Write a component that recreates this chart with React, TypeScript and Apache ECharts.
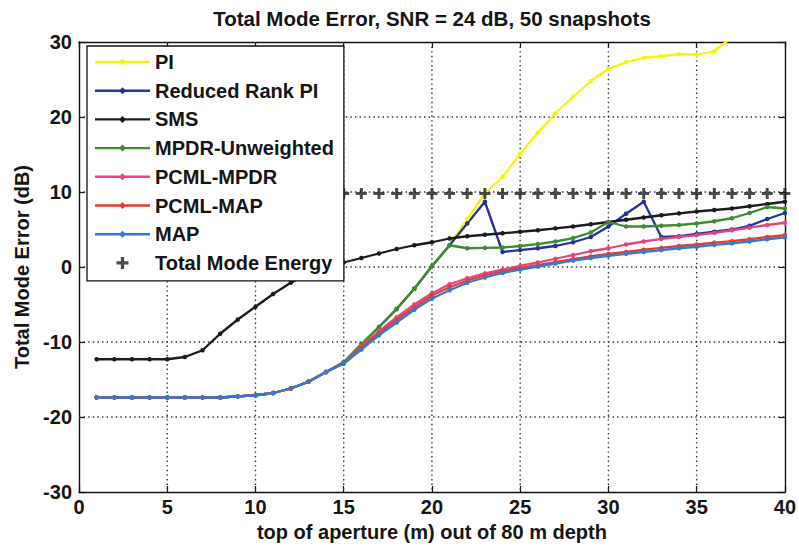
import { useEffect, useRef } from 'react';
import * as echarts from 'echarts';

// Top of the aperture (m), one sample per metre
const depths = [1, 2, 3, 4, 5, 6, 7, 8, 9, 10, 11, 12, 13, 14, 15, 16, 17, 18, 19, 20,
  21, 22, 23, 24, 25, 26, 27, 28, 29, 30, 31, 32, 33, 34, 35, 36, 37, 38, 39, 40];

// Total mode error (dB) per estimator
const piError = [-17.4, -17.4, -17.4, -17.4, -17.4, -17.4, -17.4, -17.4, -17.25, -17.1,
  -16.8, -16.2, -15.3, -14.0, -12.7, -10.3, -8.0, -5.6, -2.9, 0.1,
  2.9, 6.4, 9.8, 12.0, 15.1, 17.9, 20.5, 22.7, 24.8, 26.4,
  27.3, 27.9, 28.1, 28.4, 28.3, 28.8, 30.6, 31.8, 32.9, 33.8];

const reducedRankPiError = [-17.4, -17.4, -17.4, -17.4, -17.4, -17.4, -17.4, -17.4, -17.25, -17.1,
  -16.8, -16.2, -15.3, -14.0, -12.7, -10.3, -8.0, -5.6, -2.9, 0.1,
  2.9, 5.8, 8.7, 2.0, 2.25, 2.5, 2.8, 3.3, 4.0, 5.4,
  7.1, 8.7, 4.0, 4.1, 4.4, 4.7, 5.0, 5.5, 6.4, 7.2];

const smsError = [-12.3, -12.3, -12.3, -12.3, -12.3, -12.0, -11.1, -8.9, -7.0, -5.3,
  -3.6, -2.1, -1.0, -0.1, 0.6, 1.2, 1.8, 2.4, 2.9, 3.3,
  3.8, 4.1, 4.3, 4.5, 4.7, 4.9, 5.15, 5.4, 5.7, 6.0,
  6.3, 6.6, 6.9, 7.15, 7.4, 7.6, 7.8, 8.1, 8.4, 8.7];

const mpdrUnweightedError = [-17.4, -17.4, -17.4, -17.4, -17.4, -17.4, -17.4, -17.4, -17.25, -17.1,
  -16.8, -16.2, -15.3, -14.0, -12.7, -10.3, -8.0, -5.6, -2.9, 0.1,
  2.9, 2.5, 2.55, 2.6, 2.8, 3.05, 3.4, 3.85, 4.6, 6.0,
  5.4, 5.4, 5.5, 5.6, 5.8, 6.1, 6.5, 7.2, 8.0, 7.8];

const pcmlMpdrError = [-17.4, -17.4, -17.4, -17.4, -17.4, -17.4, -17.4, -17.4, -17.25, -17.1,
  -16.8, -16.2, -15.3, -14.0, -12.8, -10.6, -8.6, -6.7, -5.0, -3.5,
  -2.3, -1.5, -0.85, -0.35, 0.15, 0.6, 1.1, 1.6, 2.1, 2.5,
  3.0, 3.4, 3.75, 4.0, 4.25, 4.55, 4.9, 5.25, 5.6, 5.9];

const pcmlMapError = [-17.4, -17.4, -17.4, -17.4, -17.4, -17.4, -17.4, -17.4, -17.25, -17.1,
  -16.8, -16.2, -15.3, -14.0, -12.8, -10.8, -8.8, -7.0, -5.4, -3.8,
  -2.7, -1.8, -1.1, -0.6, -0.15, 0.25, 0.65, 1.05, 1.4, 1.75,
  2.0, 2.3, 2.55, 2.8, 3.0, 3.25, 3.45, 3.7, 4.0, 4.25];

const mapError = [-17.4, -17.4, -17.4, -17.4, -17.4, -17.4, -17.4, -17.4, -17.25, -17.1,
  -16.8, -16.2, -15.3, -14.0, -12.9, -11.0, -9.1, -7.4, -5.7, -4.2,
  -3.1, -2.1, -1.4, -0.8, -0.35, 0.05, 0.45, 0.85, 1.2, 1.5,
  1.75, 2.0, 2.25, 2.5, 2.7, 2.95, 3.15, 3.4, 3.7, 3.95];

const totalModeEnergy = [9.8, 9.8, 9.8, 9.8, 9.8, 9.8, 9.8, 9.8, 9.8, 9.8,
  9.8, 9.8, 9.8, 9.8, 9.8, 9.8, 9.8, 9.8, 9.8, 9.8,
  9.8, 9.8, 9.8, 9.8, 9.8, 9.8, 9.8, 9.8, 9.8, 9.8,
  9.8, 9.8, 9.8, 9.8, 9.8, 9.8, 9.8, 9.8, 9.8, 9.8];

// Interior grid positions (dotted lines)
const xGridTicks = [5, 10, 15, 20, 25, 30, 35];
const yGridTicks = [-20, -10, 0, 10, 20];

const lineSeries = [
  { name: 'PI', values: piError, color: '#f7f700' },
  { name: 'Reduced Rank PI', values: reducedRankPiError, color: '#24329c' },
  { name: 'SMS', values: smsError, color: '#1c1c1c' },
  { name: 'MPDR-Unweighted', values: mpdrUnweightedError, color: '#3d8c34' },
  { name: 'PCML-MPDR', values: pcmlMpdrError, color: '#e6467e' },
  { name: 'PCML-MAP', values: pcmlMapError, color: '#e63c2e' },
  { name: 'MAP', values: mapError, color: '#2f7bd6' },
];

const FONT = "'Liberation Sans', Arial, sans-serif";
const LINE_ICON = 'path://M0,3.8 L55,3.8 L55,6.2 L0,6.2 Z M27.5,1.5 L31,5 L27.5,8.5 L24,5 Z';
const PLUS = 'path://M4,0 L7,0 L7,4 L11,4 L11,7 L7,7 L7,11 L4,11 L4,7 L0,7 L0,4 L4,4 Z';
const GRID_STYLE = { stroke: '#303030', lineWidth: 1.4, lineDash: [1.4, 3.2] };

export default function App() {
  const ref = useRef<HTMLDivElement>(null);

  useEffect(() => {
    if (!ref.current) return;
    const chart = echarts.init(ref.current, null, { renderer: 'svg' });

    const axisLine = { show: true, onZero: false, lineStyle: { color: '#111', width: 1.4 } };
    const tick = { show: true, inside: true, length: 6, lineStyle: { color: '#111', width: 1.2 } };
    const labelStyle = { fontFamily: FONT, fontWeight: 'bold', fontSize: 20, color: '#151515' };

    const series: any[] = [
      {
        name: 'vertical grid',
        type: 'custom',
        silent: true,
        z: 1,
        data: xGridTicks.map((v) => [v, 0]),
        renderItem: (params: any, api: any) => {
          const cs = params.coordSys;
          const p = api.coord([api.value(0), 0]);
          return {
            type: 'line',
            shape: { x1: p[0], y1: cs.y, x2: p[0], y2: cs.y + cs.height },
            style: GRID_STYLE,
          };
        },
      },
      {
        name: 'horizontal grid',
        type: 'custom',
        silent: true,
        z: 1,
        data: yGridTicks.map((v) => [0, v]),
        renderItem: (params: any, api: any) => {
          const cs = params.coordSys;
          const p = api.coord([0, api.value(1)]);
          return {
            type: 'line',
            shape: { x1: cs.x, y1: p[1], x2: cs.x + cs.width, y2: p[1] },
            style: GRID_STYLE,
          };
        },
      },
    ];

    lineSeries.forEach((s) => {
      series.push({
        name: s.name,
        type: 'line',
        z: 2,
        data: depths.map((d, i) => [d, s.values[i]]),
        color: s.color,
        lineStyle: { color: s.color, width: 2.3 },
        itemStyle: { color: s.color },
        symbol: 'circle',
        symbolSize: 4.5,
        showSymbol: true,
        clip: true,
      });
    });
    series.push({
      name: 'Total Mode Energy',
      type: 'scatter',
      z: 3,
      data: depths.map((d, i) => [d, totalModeEnergy[i]]),
      symbol: PLUS,
      symbolSize: 11,
      itemStyle: { color: '#1e1e1e' },
      color: '#1e1e1e',
    });

    chart.setOption({
      animation: false,
      backgroundColor: '#ffffff',
      graphic: [
        {
          type: 'text',
          x: 432,
          y: 18.5,
          style: {
            text: 'Total Mode Error, SNR = 24 dB, 50 snapshots',
            fontFamily: FONT,
            fontWeight: 'bold',
            fontSize: 20.5,
            fill: '#151515',
            align: 'center',
            verticalAlign: 'middle',
          },
        },
      ],
      grid: { left: 79, right: 12, top: 42, bottom: 56 },
      legend: {
        orient: 'vertical',
        left: 87,
        top: 46,
        z: 10,
        padding: [5, 10, 7, 8],
        itemWidth: 55,
        itemHeight: 12,
        itemGap: 6.7,
        selectedMode: false,
        backgroundColor: '#ffffff',
        borderColor: '#111',
        borderWidth: 1.3,
        textStyle: { ...labelStyle, lineHeight: 22 },
        data: [
          ...lineSeries.map((s) => ({ name: s.name, icon: LINE_ICON })),
          { name: 'Total Mode Energy', icon: PLUS },
        ],
      },
      xAxis: [
        {
          type: 'value',
          min: 0,
          max: 40,
          interval: 5,
          position: 'bottom',
          axisLine,
          axisTick: tick,
          splitLine: { show: false },
          axisLabel: { ...labelStyle, margin: 5 },
          name: 'top of aperture (m) out of 80 m depth',
          nameLocation: 'middle',
          nameGap: 28,
          nameTextStyle: labelStyle,
        },
        {
          type: 'value',
          min: 0,
          max: 40,
          interval: 5,
          position: 'top',
          axisLine,
          axisTick: tick,
          splitLine: { show: false },
          axisLabel: { show: false },
        },
      ],
      yAxis: [
        {
          type: 'value',
          min: -30,
          max: 30,
          interval: 10,
          position: 'left',
          axisLine,
          axisTick: tick,
          splitLine: { show: false },
          axisLabel: { ...labelStyle, margin: 7 },
          name: 'Total Mode Error (dB)',
          nameLocation: 'middle',
          nameGap: 46,
          nameTextStyle: labelStyle,
        },
        {
          type: 'value',
          min: -30,
          max: 30,
          interval: 10,
          position: 'right',
          axisLine,
          axisTick: tick,
          splitLine: { show: false },
          axisLabel: { show: false },
        },
      ],
      series,
    });

    return () => chart.dispose();
  }, []);

  return (
    <div
      ref={ref}
      style={{ position: 'fixed', left: 0, top: 0, width: 799, height: 548, background: '#fff' }}
    />
  );
}
